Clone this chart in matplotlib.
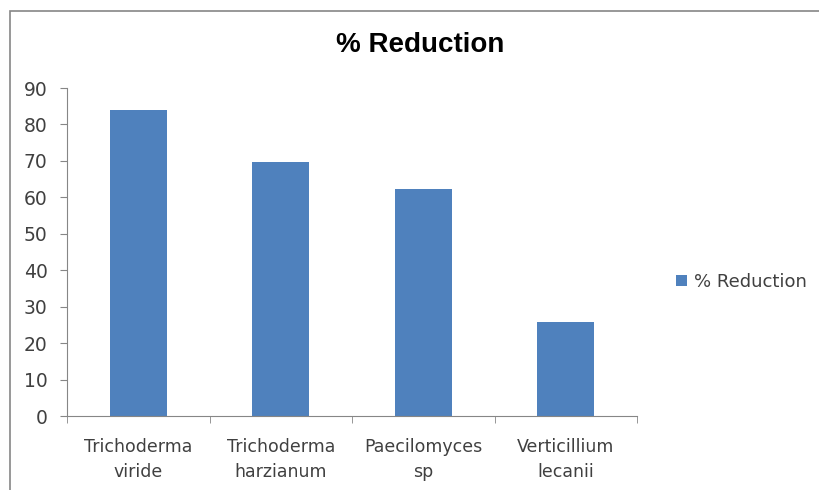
import matplotlib.pyplot as plt
from matplotlib.patches import Rectangle
import numpy as np

plt.rcParams['font.family'] = ['DejaVu Sans']

categories = ['Trichoderma\nviride', 'Trichoderma\nharzianum', 'Paecilomyces\nsp', 'Verticillium\nlecanii']
reduction = [84.1, 69.7, 62.2, 25.8]

bar_color = '#4F81BD'
axis_color = '#868686'
text_color = '#404040'

fig = plt.figure(figsize=(8.19, 4.9), dpi=100)
ax = fig.add_axes([67/819, 1 - 416/490, (637 - 67)/819, (416 - 88)/490])

x = np.arange(len(categories))
ax.bar(x, reduction, width=0.4, color=bar_color, label='% Reduction')

ax.set_xlim(-0.5, len(categories) - 0.5)
ax.set_ylim(0, 90)
ax.set_yticks(range(0, 91, 10))

# category labels centred, tick marks on category boundaries
ax.set_xticks(x)
ax.set_xticklabels(categories, fontsize=12.5, color=text_color, linespacing=1.5)
ax.tick_params(axis='x', length=0, pad=16)
ax.set_xticks(np.arange(-0.5, len(categories)), minor=True)
ax.tick_params(axis='x', which='minor', length=5, color=axis_color, direction='out')
ax.tick_params(axis='y', length=5, color=axis_color, labelsize=13.5, labelcolor=text_color, pad=9)

for side in ['top', 'right']:
    ax.spines[side].set_visible(False)
for side in ['left', 'bottom']:
    ax.spines[side].set_color(axis_color)

fig.text(420/819, 1 - 45/490, '% Reduction', ha='center', va='center', fontsize=20,
         fontweight='bold', family='Liberation Sans', color='black')

fig.legend(loc='center left', bbox_to_anchor=(660/819, 1 - 282/490), frameon=False,
           fontsize=13, labelcolor=text_color, handlelength=0.6, handleheight=0.6, handletextpad=0.4)

# chart border (right and bottom run off the image)
fig.patches.append(Rectangle((10/819, -0.05), 1.1, 1 - 11/490 + 0.05, transform=fig.transFigure,
                             fill=False, edgecolor=axis_color, linewidth=1.2))

fig.savefig('out.png', dpi=100)
